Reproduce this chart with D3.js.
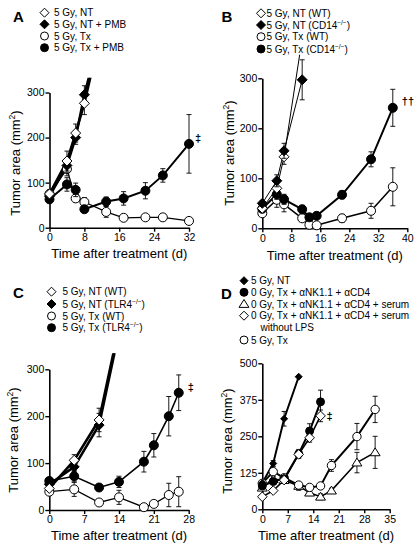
<!DOCTYPE html>
<html><head><meta charset="utf-8">
<script src="https://cdn.jsdelivr.net/npm/d3@7"></script>
<style>
body{margin:0;background:#fff}
text{font-family:"Liberation Sans",Arial,Helvetica,sans-serif;fill:#000}
</style>
</head><body>
<svg id="chart" width="418" height="551"></svg>
<script>
// ---------- Panel A data ----------
const aNTDays = [0, 4, 6, 8, 10];
const aNT = [75, 148, 210, 276, 360];
const aNTErr = [8, 22, 20, 25, 0];
const aNTPMBDays = [0, 4, 6, 8, 10];
const aNTPMB = [70, 138, 200, 295, 370];
const aNTPMBErr = [8, 15, 15, 20, 0];
const aTxDays = [0, 4, 6, 8, 13, 17, 22, 26, 32];
const aTx = [75, 130, 65, 57, 35, 22, 23, 23, 15];
const aTxErr = [8, 15, 8, 10, 12, 5, 5, 5, 5];
const aTxPMB = [63, 96, 84, 41, 58, 65, 82, 116, 186];
const aTxPMBErr = [8, 15, 15, 5, 10, 15, 18, 15, 65];

// ---------- Panel B data ----------
const bNTDays = [0, 4, 6, 11];
const bNTWT = [40, 80, 143, 380];
const bNTWTErr = [5, 10, 15, 0];
const bNTCD14 = [50, 95, 155, 297];
const bNTCD14Err = [5, 12, 15, 40];
const bTxDays = [0, 4, 6, 11, 13, 15, 22, 30, 36];
const bTxWT = [30, 57, 48, 20, 7, 6, 20, 35, 83];
const bTxWTErr = [5, 15, 15, 5, 3, 3, 8, 15, 38];
const bTxCD14 = [39, 68, 58, 38, 22, 25, 67, 138, 241];
const bTxCD14Err = [5, 10, 10, 8, 5, 5, 8, 15, 37];

// ---------- Panel C data ----------
const cNTDays = [0, 5, 10, 14];
const cNTWT = [46, 106, 192, 390];
const cNTWTErr = [5, 12, 25, 0];
const cNTTLR4 = [55, 92, 181, 380];
const cNTTLR4Err = [5, 10, 25, 0];
const cTxDays = [0, 5, 10, 14, 19, 21, 24, 26];
const cTxWT = [39, 44, 16, 27, 6, 13, 32, 39];
const cTxWTErr = [5, 15, 5, 15, 3, 5, 25, 32];
const cTxTLR4 = [62, 72, 48, 60, 103, 138, 200, 250];
const cTxTLR4Err = [5, 12, 5, 12, 22, 25, 42, 38];

// ---------- Panel D data ----------
const dNTDays = [0, 3, 6, 10];
const dNT = [90, 157, 310, 454];
const dNTErr = [5, 10, 25, 0];
const dAbDays = [0, 3, 6, 10, 13, 16];
const dAb = [80, 95, 105, 190, 268, 368];
const dAbErr = [5, 10, 10, 15, 25, 40];
const dNoLPS = [43, 64, 100, 188, 245, 320];
const dNoLPSErr = [3, 5, 8, 12, 15, 20];
const dLongDays = [0, 3, 6, 10, 13, 16, 19, 26, 31];
const dSerum = [74, 103, 100, 80, 57, 43, 64, 160, 195];
const dSerumErr = [5, 10, 10, 15, 10, 10, 8, 35, 55];
const dTx = [89, 129, 108, 83, 75, 80, 150, 249, 342];
const dTxErr = [8, 10, 8, 8, 8, 8, 20, 45, 45];

// ---------- tick labels ----------
const aXTicks = [0, 8, 16, 24, 32];
const bXTicks = [0, 8, 16, 24, 32, 40];
const cXTicks = [0, 7, 14, 21, 28];
const dXTicks = [0, 7, 14, 21, 28, 35];
const yTicks300 = [0, 100, 200, 300];
const dYTicks = [0, 125, 250, 375, 500];

// ---------- legend labels ----------
const aLabels = ["5 Gy, NT", "5 Gy, NT + PMB", "5 Gy, Tx", "5 Gy, Tx  + PMB"];
const bLabels = ["5 Gy, NT  (WT)", "5 Gy, NT  (CD14−/−)", "5 Gy, Tx  (WT)", "5 Gy, Tx  (CD14−/−)"];
const cLabels = ["5 Gy, NT  (WT)", "5 Gy, NT  (TLR4−/−)", "5 Gy, Tx  (WT)", "5 Gy, Tx  (TLR4−/−)"];
const dLabels = ["5 Gy, NT", "0 Gy, Tx + αNK1.1 + αCD4", "0 Gy, Tx + αNK1.1 + αCD4 + serum", "0 Gy, Tx + αNK1.1 + αCD4 + serum", "5 Gy, Tx"];
const dLabelExtra = "without LPS";

const svg = d3.select("#chart");

function shapePath(shape, s) {
  if (shape === "diamond") return `M0,${-s}L${s},0L0,${s}L${-s},0Z`;
  if (shape === "triangle") return `M0,${-s}L${s*1.1},${s*0.75}L${-s*1.1},${s*0.75}Z`;
  return null;
}
function drawMarker(g, shape, fill, size, x, y) {
  if (shape === "circle") {
    g.append("circle").attr("cx", x).attr("cy", y).attr("r", size)
      .attr("fill", fill).attr("stroke", "#000").attr("stroke-width", 1);
  } else {
    g.append("path").attr("d", shapePath(shape, size))
      .attr("transform", `translate(${x},${y})`)
      .attr("fill", fill).attr("stroke", "#000").attr("stroke-width", 1);
  }
}
function addText(sel, str, fs) {
  const parts = str.split("−/−");
  sel.append("tspan").text(parts[0]);
  if (parts.length > 1) {
    sel.append("tspan").attr("font-size", fs * 0.65).attr("dy", -4).text("−/−");
    sel.append("tspan").attr("dy", 4).text(parts[1]);
  }
}

let clipId = 0;
function drawPanel(p) {
  const x = d3.scaleLinear().domain([0, p.xMax]).range([p.x0, p.x1]);
  const y = d3.scaleLinear().domain([0, p.yMax]).range([p.y0, p.y1]);
  const g = svg.append("g");

  // axes
  const ax = g.append("g").attr("transform", `translate(0,${p.y0})`)
    .call(d3.axisBottom(x).tickValues(p.xTicks).tickSize(4).tickSizeOuter(0).tickPadding(2));
  const ay = g.append("g").attr("transform", `translate(${p.x0},0)`)
    .call(d3.axisLeft(y).tickValues(p.yTicks).tickSize(4).tickSizeOuter(0).tickPadding(1));
  [ax, ay].forEach(a => {
    a.select(".domain").attr("stroke-width", 1.6);
    a.selectAll(".tick line").attr("stroke-width", 1.4);
    a.selectAll("text").attr("font-size", 10.5).attr("font-family", "Liberation Sans, Arial, sans-serif").attr("fill", "#000");
  });

  // axis titles
  g.append("text").attr("x", (p.x0 + p.x1) / 2).attr("y", p.xTitleY)
    .attr("text-anchor", "middle").attr("font-size", 13).text("Time after treatment (d)");
  const yt = g.append("text").attr("transform", `translate(${p.yTitleX},${p.yTitleC}) rotate(-90)`)
    .attr("text-anchor", "middle").attr("font-size", 13);
  yt.append("tspan").text("Tumor area (mm");
  yt.append("tspan").attr("font-size", 8.5).attr("dy", -5).text("2");
  yt.append("tspan").attr("dy", 5).text(")");

  // panel letter
  g.append("text").attr("x", p.letterX).attr("y", p.letterY).attr("font-size", 15)
    .attr("font-weight", "bold").text(p.letter);

  // clip
  const id = "clip" + (clipId++);
  svg.append("clipPath").attr("id", id).append("rect")
    .attr("x", p.x0 - 10).attr("y", y(p.clipMax))
    .attr("width", p.x1 - p.x0 + 30).attr("height", p.y0 - y(p.clipMax) + 10);
  const plot = g.append("g").attr("clip-path", `url(#${id})`);

  p.series.forEach(s => {
    const pts = s.days.map((d, i) => ({ d, v: s.vals[i], e: s.errs[i] }));
    plot.append("path").datum(pts)
      .attr("d", d3.line().x(q => x(q.d)).y(q => y(q.v)))
      .attr("fill", "none").attr("stroke", "#000").attr("stroke-width", s.lw);
  });
  p.series.forEach(s => {
    const pts = s.days.map((d, i) => ({ d, v: s.vals[i], e: s.errs[i] }));
    pts.forEach(q => {
      if (q.e > 0 && q.v <= p.yMax * 1.05) {
        const cx = x(q.d);
        plot.append("line").attr("x1", cx).attr("x2", cx).attr("y1", y(q.v - q.e)).attr("y2", y(q.v + q.e))
          .attr("stroke", "#000").attr("stroke-width", 0.9);
        [q.v - q.e, q.v + q.e].forEach(vv => {
          plot.append("line").attr("x1", cx - 2.5).attr("x2", cx + 2.5).attr("y1", y(vv)).attr("y2", y(vv))
            .attr("stroke", "#000").attr("stroke-width", 0.9);
        });
      }
    });
    pts.forEach(q => {
      if (q.v <= p.yMax * 1.05) drawMarker(plot, s.shape, s.fill, s.size, x(q.d), y(q.v));
    });
  });

  // legend
  p.legend.forEach((l, i) => {
    const yy = p.legY[i];
    drawMarker(g, l.shape, l.fill, l.size, p.legMX, yy);
    const t = g.append("text").attr("x", p.legTX).attr("y", yy + 3.6).attr("font-size", 10);
    addText(t, l.label, 10);
  });
  if (p.legendExtra) {
    g.append("text").attr("x", p.legendExtra.x).attr("y", p.legendExtra.y + 3.6)
      .attr("font-size", 10).text(p.legendExtra.text);
  }
  // significance marks
  p.marks.forEach(m => {
    g.append("text").attr("x", x(m.d) + m.dx).attr("y", y(m.v) + 4)
      .attr("font-size", 11).attr("font-family", "DejaVu Sans, sans-serif")
      .attr("font-weight", "bold").attr("fill", "#000").style("fill", "#000").text(m.t);
  });
}

// Panel A
drawPanel({
  letter: "A", letterX: 13, letterY: 22,
  x0: 49.5, x1: 189, y0: 227.7, y1: 92.5, xMax: 32, yMax: 300, clipMax: 333,
  xTicks: aXTicks, yTicks: yTicks300, xTitleY: 257.5, yTitleX: 20, yTitleC: 163,
  series: [
    { days: aTxDays, vals: aTx, errs: aTxErr, shape: "circle", fill: "#fff", size: 4.5, lw: 1.3 },
    { days: aTxDays, vals: aTxPMB, errs: aTxPMBErr, shape: "circle", fill: "#000", size: 4.5, lw: 2 },
    { days: aNTPMBDays, vals: aNTPMB, errs: aNTPMBErr, shape: "diamond", fill: "#000", size: 5, lw: 2.5 },
    { days: aNTDays, vals: aNT, errs: aNTErr, shape: "diamond", fill: "#fff", size: 5, lw: 2.5 }
  ],
  legend: [
    { label: aLabels[0], shape: "diamond", fill: "#fff", size: 4.5 },
    { label: aLabels[1], shape: "diamond", fill: "#000", size: 4.5 },
    { label: aLabels[2], shape: "circle", fill: "#fff", size: 4 },
    { label: aLabels[3], shape: "circle", fill: "#000", size: 4 }
  ],
  legMX: 44.5, legTX: 54, legY: [12.7, 24.3, 36, 47.7],
  marks: [{ d: 32, v: 200, dx: 6, t: "‡" }]
});

// Panel B
drawPanel({
  letter: "B", letterX: 221.5, letterY: 22,
  x0: 262.3, x1: 407.3, y0: 228.3, y1: 78.3, xMax: 40, yMax: 300, clipMax: 347,
  xTicks: bXTicks, yTicks: yTicks300, xTitleY: 259.5, yTitleX: 234, yTitleC: 153,
  series: [
    { days: bTxDays, vals: bTxWT, errs: bTxWTErr, shape: "circle", fill: "#fff", size: 4.5, lw: 1.5 },
    { days: bTxDays, vals: bTxCD14, errs: bTxCD14Err, shape: "circle", fill: "#000", size: 4.5, lw: 2 },
    { days: bNTDays, vals: bNTWT, errs: bNTWTErr, shape: "diamond", fill: "#fff", size: 5, lw: 1 },
    { days: bNTDays, vals: bNTCD14, errs: bNTCD14Err, shape: "diamond", fill: "#000", size: 5, lw: 1 }
  ],
  legend: [
    { label: bLabels[0], shape: "diamond", fill: "#fff", size: 4.5 },
    { label: bLabels[1], shape: "diamond", fill: "#000", size: 4.5 },
    { label: bLabels[2], shape: "circle", fill: "#fff", size: 4 },
    { label: bLabels[3], shape: "circle", fill: "#000", size: 4 }
  ],
  legMX: 261, legTX: 266.5, legY: [13.3, 25, 36.7, 49],
  marks: [{ d: 36, v: 255, dx: 9, t: "††" }]
});

// Panel C
drawPanel({
  letter: "C", letterX: 13, letterY: 297.5,
  x0: 49.3, x1: 188.7, y0: 510, y1: 369.3, xMax: 28, yMax: 300, clipMax: 334,
  xTicks: cXTicks, yTicks: yTicks300, xTitleY: 539.5, yTitleX: 18, yTitleC: 440,
  series: [
    { days: cTxDays, vals: cTxWT, errs: cTxWTErr, shape: "circle", fill: "#fff", size: 4.5, lw: 1.3 },
    { days: cTxDays, vals: cTxTLR4, errs: cTxTLR4Err, shape: "circle", fill: "#000", size: 4.5, lw: 1.6 },
    { days: cNTDays, vals: cNTTLR4, errs: cNTTLR4Err, shape: "diamond", fill: "#000", size: 5, lw: 2.6 },
    { days: cNTDays, vals: cNTWT, errs: cNTWTErr, shape: "diamond", fill: "#fff", size: 5, lw: 2.6 }
  ],
  legend: [
    { label: cLabels[0], shape: "diamond", fill: "#fff", size: 4.5 },
    { label: cLabels[1], shape: "diamond", fill: "#000", size: 4.5 },
    { label: cLabels[2], shape: "circle", fill: "#fff", size: 4 },
    { label: cLabels[3], shape: "circle", fill: "#000", size: 4 }
  ],
  legMX: 51.5, legTX: 62.5, legY: [291.7, 304, 316, 327.7],
  marks: [{ d: 26, v: 262, dx: 9, t: "‡" }]
});

// Panel D
drawPanel({
  letter: "D", letterX: 221, letterY: 298.5,
  x0: 262.3, x1: 389.7, y0: 509.3, y1: 363.3, xMax: 35, yMax: 500, clipMax: 520,
  xTicks: dXTicks, yTicks: dYTicks, xTitleY: 539.5, yTitleX: 232, yTitleC: 441,
  series: [
    { days: dLongDays, vals: dSerum, errs: dSerumErr, shape: "triangle", fill: "#fff", size: 4.5, lw: 1.6 },
    { days: dLongDays, vals: dTx, errs: dTxErr, shape: "circle", fill: "#fff", size: 4.2, lw: 2 },
    { days: dAbDays, vals: dAb, errs: dAbErr, shape: "circle", fill: "#000", size: 4, lw: 2 },
    { days: dAbDays, vals: dNoLPS, errs: dNoLPSErr, shape: "diamond", fill: "#fff", size: 4.8, lw: 1.6 },
    { days: dNTDays, vals: dNT, errs: dNTErr, shape: "diamond", fill: "#000", size: 3.5, lw: 2 }
  ],
  legend: [
    { label: dLabels[0], shape: "diamond", fill: "#000", size: 4 },
    { label: dLabels[1], shape: "circle", fill: "#000", size: 4 },
    { label: dLabels[2], shape: "triangle", fill: "#fff", size: 4.5 },
    { label: dLabels[3], shape: "diamond", fill: "#fff", size: 4.5 },
    { label: dLabels[4], shape: "circle", fill: "#fff", size: 4 }
  ],
  legMX: 244, legTX: 251, legY: [280.7, 292.3, 304, 315.7, 340],
  legendExtra: { x: 260.5, y: 327.5, text: dLabelExtra },
  marks: [{ d: 16, v: 320, dx: 6, t: "‡" }]
});
</script>
</body></html>
